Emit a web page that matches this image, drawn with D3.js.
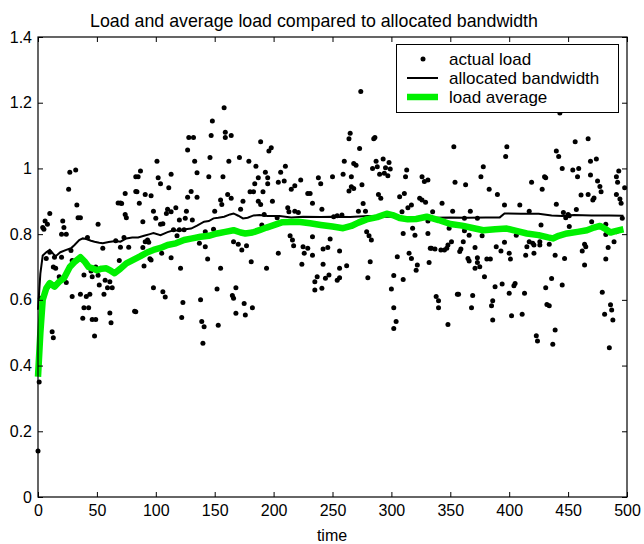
<!DOCTYPE html>
<html>
<head>
<meta charset="utf-8">
<script src="https://cdn.jsdelivr.net/npm/d3@7"></script>
<style>
  body { margin: 0; background: #fff; }
  text { font-family: "Liberation Sans", Arial, Helvetica, sans-serif; fill: #000; }
</style>
</head>
<body>
<svg id="chart" width="644" height="544"></svg>
<script>
// tick labels
var timeTicks = [0, 50, 100, 150, 200, 250, 300, 350, 400, 450, 500]
var loadTicks = [0, 0.2, 0.4, 0.6, 0.8, 1, 1.2, 1.4]

// actual load dots, [time, load]
var actualLoad = [
  [0,0.14],[1,0.35],[2,0.605],[27,0.988],[32,0.995],[26,0.937],[74,0.924],[83,0.93],[83,0.975],[33,0.889],
  [68,0.895],[70,0.895],[71,0.893],[10,0.863],[4,0.82],[6,0.84],[5,0.815],[8,0.83],[74,0.86],[75,0.85],
  [21,0.84],[22,0.82],[24,0.80],[34,0.85],[36,0.85],[51,0.83],[20,0.80],[66,0.78],[73,0.79],[42,0.79],
  [55,0.757],[70,0.76],[77,0.76],[10,0.745],[14,0.73],[20,0.73],[28,0.75],[29,0.72],[7,0.726],[13,0.70],
  [15,0.696],[69,0.72],[49,0.70],[45,0.688],[18,0.67],[39,0.676],[46,0.67],[51,0.675],[57,0.66],[61,0.655],
  [59,0.637],[63,0.637],[24,0.653],[52,0.645],[29,0.61],[36,0.617],[41,0.61],[44,0.617],[56,0.617],[43,0.576],
  [39,0.576],[38,0.544],[46,0.54],[49,0.54],[61,0.56],[62,0.53],[82,0.565],[12,0.503],[13,0.485],[48,0.49],
  [158,1.185],[148,1.144],[147,1.10],[159,1.11],[164,1.10],[159,1.094],[128,1.094],[132,1.094],[127,1.056],[146,1.033],
  [101,1.022],[133,1.022],[162,1.022],[87,0.992],[85,0.975],[102,0.972],[104,0.953],[113,0.982],[135,0.987],[145,0.975],
  [157,0.975],[111,0.941],[84,0.929],[91,0.921],[96,0.917],[130,0.93],[127,0.912],[135,0.912],[161,0.921],[164,0.909],
  [86,0.894],[155,0.904],[156,0.89],[98,0.87],[110,0.876],[113,0.868],[109,0.863],[117,0.88],[126,0.87],[150,0.87],
  [100,0.848],[120,0.843],[125,0.848],[131,0.843],[89,0.838],[104,0.83],[106,0.832],[115,0.813],[124,0.813],[120,0.813],
  [142,0.807],[149,0.815],[93,0.782],[91,0.777],[94,0.775],[118,0.795],[137,0.772],[142,0.762],[89,0.759],[166,0.777],
  [96,0.721],[95,0.725],[113,0.728],[105,0.742],[90,0.703],[144,0.724],[121,0.696],[155,0.696],[98,0.637],[106,0.625],
  [108,0.609],[152,0.633],[138,0.60],[165,0.613],[166,0.605],[123,0.592],[83,0.564],[122,0.546],[139,0.534],[141,0.518],
  [153,0.523],[140,0.468],
  [189,1.081],[196,1.053],[198,1.063],[171,1.033],[179,1.022],[185,1.007],[210,1.007],[193,0.988],[195,0.972],[187,0.972],
  [184,0.953],[195,0.953],[206,0.988],[204,0.958],[209,0.962],[218,0.947],[215,0.937],[223,0.965],[238,0.972],[240,0.953],
  [250,0.975],[180,0.929],[183,0.929],[191,0.929],[229,0.924],[231,0.924],[174,0.90],[187,0.90],[189,0.89],[199,0.90],
  [233,0.894],[172,0.876],[241,0.876],[212,0.88],[213,0.868],[218,0.87],[221,0.866],[192,0.86],[203,0.85],[190,0.828],
  [170,0.769],[173,0.752],[177,0.765],[214,0.795],[216,0.782],[217,0.765],[233,0.792],[225,0.762],[229,0.757],[226,0.742],
  [233,0.736],[242,0.755],[246,0.759],[248,0.785],[204,0.742],[181,0.716],[194,0.696],[224,0.708],[242,0.708],[237,0.67],
  [235,0.655],[235,0.63],[241,0.635],[244,0.666],[247,0.676],[168,0.637],[175,0.589],[176,0.554],[182,0.576],[168,0.559],
  [274,1.234],[265,1.107],[264,1.09],[286,1.094],[285,1.09],[273,1.061],[260,1.022],[268,1.015],[270,1.01],[287,1.022],
  [293,1.029],[298,1.018],[284,1.0],[288,1.005],[295,1.002],[299,0.998],[290,0.982],[294,0.985],[297,0.978],[313,0.995],
  [312,0.975],[259,0.982],[266,0.975],[326,0.975],[328,0.96],[331,0.965],[266,0.944],[268,0.939],[264,0.931],[275,0.95],
  [289,0.921],[291,0.909],[307,0.914],[311,0.924],[324,0.909],[326,0.904],[329,0.897],[276,0.893],[317,0.889],[314,0.88],
  [272,0.87],[278,0.87],[251,0.853],[254,0.856],[258,0.858],[309,0.868],[318,0.818],[279,0.807],[281,0.795],[283,0.782],
  [310,0.802],[320,0.797],[331,0.802],[256,0.749],[333,0.757],[305,0.731],[315,0.742],[317,0.726],[282,0.716],[262,0.704],
  [256,0.696],[322,0.706],[321,0.69],[332,0.714],[254,0.66],[256,0.667],[280,0.667],[302,0.674],[310,0.662],[300,0.633],
  [302,0.576],[304,0.534],[302,0.513],
  [353,1.066],[398,1.066],[397,1.036],[378,1.005],[376,0.975],[354,0.958],[363,0.95],[383,0.937],[390,0.921],[343,0.894],
  [396,0.889],[409,0.889],[335,0.868],[352,0.87],[367,0.87],[331,0.84],[362,0.848],[373,0.848],[362,0.81],[366,0.797],
  [349,0.818],[377,0.795],[406,0.797],[351,0.777],[348,0.767],[347,0.757],[345,0.752],[342,0.752],[334,0.757],[337,0.755],
  [361,0.777],[359,0.755],[358,0.747],[371,0.759],[389,0.762],[393,0.749],[396,0.775],[400,0.742],[401,0.724],[415,0.762],
  [414,0.736],[365,0.726],[366,0.718],[373,0.728],[373,0.714],[371,0.696],[375,0.701],[381,0.724],[384,0.724],[379,0.67],
  [388,0.64],[394,0.648],[405,0.65],[404,0.643],[400,0.62],[413,0.62],[356,0.617],[357,0.617],[338,0.61],[340,0.597],
  [340,0.576],[369,0.613],[368,0.576],[386,0.597],[385,0.582],[402,0.552],[411,0.556],[348,0.525],[386,0.539],
  [443,1.169],[467,1.09],[456,1.081],[440,1.053],[442,1.036],[469,1.022],[474,1.029],[493,0.992],[491,0.975],[492,0.958],
  [498,0.941],[445,1.0],[454,0.995],[459,1.0],[458,0.975],[469,0.98],[419,0.958],[430,0.975],[431,0.972],[428,0.937],
  [475,0.962],[477,0.945],[478,0.929],[461,0.919],[467,0.921],[472,0.91],[471,0.904],[491,0.921],[494,0.907],[495,0.894],
  [440,0.891],[417,0.87],[446,0.866],[450,0.86],[448,0.85],[451,0.856],[457,0.875],[496,0.848],[470,0.838],[427,0.828],
  [451,0.823],[482,0.83],[491,0.807],[482,0.799],[489,0.777],[417,0.777],[420,0.772],[421,0.767],[426,0.777],[426,0.767],
  [421,0.742],[434,0.769],[464,0.769],[465,0.762],[462,0.749],[484,0.759],[439,0.736],[447,0.726],[482,0.724],[464,0.706],
  [436,0.665],[431,0.637],[445,0.645],[479,0.623],[432,0.586],[434,0.582],[481,0.556],[486,0.585],[487,0.569],[488,0.539],
  [423,0.491],[424,0.475],[439,0.508],[437,0.465],[485,0.454]
]

// allocated bandwidth, [time, value]
var allocatedBandwidth = [
  [0,0.57],[2,0.68],[4,0.735],[7,0.745],[10,0.752],[13,0.74],[15,0.733],[19,0.745],[24,0.752],[28,0.757],
  [31,0.767],[35,0.782],[38,0.787],[41,0.785],[45,0.78],[48,0.777],[52,0.774],[55,0.772],[60,0.776],[66,0.779],
  [70,0.777],[75,0.787],[80,0.79],[85,0.79],[90,0.795],[95,0.80],[98,0.803],[104,0.797],[110,0.806],[115,0.812],
  [120,0.81],[125,0.815],[130,0.817],[135,0.826],[141,0.838],[145,0.84],[149,0.848],[153,0.85],[158,0.853],[163,0.86],
  [166,0.863],[170,0.856],[174,0.848],[178,0.85],[183,0.857],[188,0.858],[195,0.855],[205,0.855],[215,0.851],[225,0.853],
  [240,0.852],[250,0.853],[265,0.852],[280,0.855],[295,0.853],[307,0.852],[320,0.849],[335,0.85],[350,0.851],[365,0.85],
  [380,0.851],[392,0.851],[396,0.863],[410,0.862],[425,0.862],[436,0.857],[445,0.855],[455,0.858],[470,0.857],[485,0.857],
  [497,0.856]
]

// load average, [time, value]
var loadAverage = [
  [0,0.366],[2,0.5],[4,0.6],[7,0.635],[10,0.651],[14,0.64],[18,0.655],[22,0.666],[27,0.70],[31,0.715],
  [36,0.73],[40,0.715],[43,0.70],[47,0.695],[50,0.69],[54,0.695],[58,0.696],[62,0.688],[65,0.681],[70,0.695],
  [75,0.711],[80,0.72],[87,0.733],[93,0.745],[98,0.752],[104,0.758],[110,0.767],[117,0.772],[124,0.782],[131,0.787],
  [138,0.792],[145,0.795],[152,0.802],[159,0.807],[166,0.812],[172,0.805],[176,0.802],[182,0.805],[188,0.812],[194,0.82],
  [207,0.836],[214,0.837],[221,0.838],[231,0.833],[240,0.828],[250,0.823],[259,0.818],[266,0.825],[272,0.835],[279,0.845],
  [288,0.852],[296,0.862],[301,0.858],[307,0.849],[314,0.845],[321,0.846],[330,0.853],[340,0.843],[350,0.831],[360,0.826],
  [370,0.818],[378,0.812],[388,0.815],[398,0.817],[406,0.81],[415,0.802],[425,0.797],[433,0.79],[437,0.787],[442,0.795],
  [449,0.802],[458,0.807],[466,0.812],[472,0.82],[477,0.825],[482,0.815],[486,0.805],[491,0.81],[497,0.815]
]

var legendItems = ["actual load", "allocated bandwidth", "load average"]

var svg = d3.select("#chart")

var dims = {
    left: 38,
    right: 627,
    top: 37,
    bottom: 497
}
var green = "#00f000"
var dotRadius = 2.5

var x = d3.scaleLinear().domain([0, 500]).range([dims.left, dims.right])
var y = d3.scaleLinear().domain([0, 1.4]).range([dims.bottom, dims.top])

// title
svg.append("text")
   .attr("x", 314)
   .attr("y", 27)
   .attr("text-anchor", "middle")
   .style("font-size", "17.8px")
   .text("Load and average load compared to allocated bandwidth")

// scatter
svg.append("g")
   .selectAll("circle")
   .data(actualLoad)
   .enter()
   .append("circle")
   .attr("cx", d => x(d[0]))
   .attr("cy", d => y(d[1]))
   .attr("r", dotRadius)
   .attr("fill", "#000")

var line = d3.line().x(d => x(d[0])).y(d => y(d[1]))

svg.append("path")
   .datum(allocatedBandwidth)
   .attr("d", line)
   .attr("fill", "none")
   .attr("stroke", "#000")
   .attr("stroke-width", 2)

svg.append("path")
   .datum(loadAverage)
   .attr("d", line)
   .attr("fill", "none")
   .attr("stroke", green)
   .attr("stroke-width", 6.5)
   .attr("stroke-linejoin", "round")

// axes, ticks pointing inwards on all four sides
var bottomAxis = d3.axisBottom(x).tickValues(timeTicks).tickSizeInner(-5).tickSizeOuter(0).tickPadding(8)
var leftAxis = d3.axisLeft(y).tickValues(loadTicks).tickSizeInner(-5).tickSizeOuter(0).tickPadding(6)
    .tickFormat(d => d === 0 ? "0" : d3.format("~g")(d))
var topAxis = d3.axisTop(x).tickValues(timeTicks).tickSizeInner(-5).tickSizeOuter(0).tickFormat("")
var rightAxis = d3.axisRight(y).tickValues(loadTicks).tickSizeInner(-5).tickSizeOuter(0).tickFormat("")

function styleAxis(g) {
    g.select(".domain").remove()
    g.selectAll("line").attr("stroke", "#000")
    g.selectAll("text").style("font-size", "16px").attr("fill", "#000")
}

svg.append("g").attr("transform", `translate(0,${dims.bottom})`).call(bottomAxis).call(styleAxis)
svg.append("g").attr("transform", `translate(${dims.left},0)`).call(leftAxis).call(styleAxis)
svg.append("g").attr("transform", `translate(0,${dims.top})`).call(topAxis).call(styleAxis)
svg.append("g").attr("transform", `translate(${dims.right},0)`).call(rightAxis).call(styleAxis)

// box
svg.append("rect")
   .attr("x", dims.left)
   .attr("y", dims.top)
   .attr("width", dims.right - dims.left)
   .attr("height", dims.bottom - dims.top)
   .attr("fill", "none")
   .attr("stroke", "#000")
   .attr("stroke-width", 1.2)

// x label
svg.append("text")
   .attr("x", 332)
   .attr("y", 541)
   .attr("text-anchor", "middle")
   .style("font-size", "16px")
   .text("time")

// legend
var legend = svg.append("g")
legend.append("rect")
      .attr("x", 396.5)
      .attr("y", 44.5)
      .attr("width", 222)
      .attr("height", 68)
      .attr("fill", "#fff")
      .attr("stroke", "#000")
      .attr("stroke-width", 1)

var rowY = [59, 78, 97]
legend.append("circle").attr("cx", 423).attr("cy", rowY[0]).attr("r", dotRadius).attr("fill", "#000")
legend.append("line").attr("x1", 407).attr("x2", 438).attr("y1", rowY[1]).attr("y2", rowY[1])
      .attr("stroke", "#000").attr("stroke-width", 2)
legend.append("line").attr("x1", 407).attr("x2", 438).attr("y1", rowY[2]).attr("y2", rowY[2])
      .attr("stroke", green).attr("stroke-width", 6.5)

legend.selectAll(".legend-label")
      .data(legendItems)
      .enter()
      .append("text")
      .attr("class", "legend-label")
      .attr("x", 449)
      .attr("y", (d, i) => rowY[i] + 6)
      .style("font-size", "17px")
      .text(d => d)
</script>
</body>
</html>
